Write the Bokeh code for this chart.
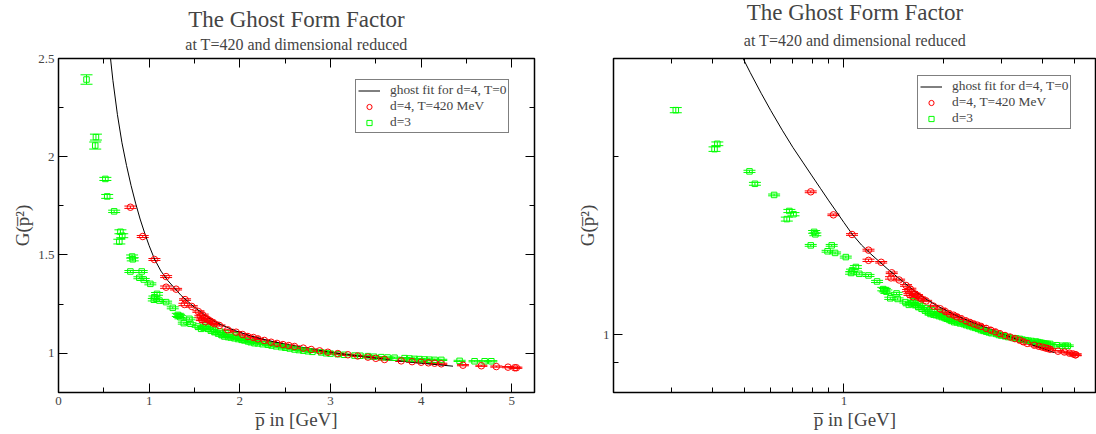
from bokeh.plotting import figure
from bokeh.layouts import row
from bokeh.models import (ColumnDataSource, Whisker, TeeHead, FixedTicker, LinearAxis, LogAxis,
                          Title, Legend, LegendItem, CustomJSTickFormatter, Range1d)
from bokeh.embed import file_html
from bokeh.resources import INLINE

SERIF = "Liberation Serif"

# ---------------- data ----------------
title_main = "The Ghost Form Factor"
title_sub = "at T=420 and dimensional reduced"
x_label = "p\u0305 in [GeV]"
y_label = "G(p\u0305\u00b2)"
legend_labels = ["ghost fit for d=4, T=0", "d=4, T=420 MeV", "d=3"]

fit_x = [0.479, 0.52, 0.561, 0.60, 0.65, 0.70, 0.75, 0.80, 0.85, 0.90, 0.95, 1.00, 1.06, 1.13,
         1.205, 1.352, 1.499, 1.647, 1.794, 1.94, 2.125, 2.309, 2.53, 2.823, 3.118, 3.413,
         3.706, 4.0, 4.351]
fit_y = [3.028, 2.767, 2.555, 2.389, 2.214, 2.071, 1.956, 1.854, 1.764, 1.683, 1.612, 1.547,
         1.478, 1.418, 1.37, 1.294, 1.234, 1.183, 1.145, 1.116, 1.087, 1.065, 1.043, 1.019,
         0.997, 0.98, 0.963, 0.949, 0.934]

red_x = [0.793, 0.929, 1.058, 1.187, 1.187, 1.297, 1.396, 1.389, 1.470, 1.543, 1.565, 1.580,
         1.590, 1.609, 1.620, 1.640, 1.665, 1.700, 1.720, 1.775, 1.867, 1.959, 2.030, 2.088,
         2.150, 2.199, 2.270, 2.345, 2.410, 2.475, 2.540, 2.603, 2.700, 2.787, 2.880, 2.971,
         3.080, 3.192, 3.300, 3.413, 3.500, 3.596, 3.780, 3.900, 4.000, 4.080, 4.148, 4.222,
         4.461, 4.664, 4.829, 4.958, 5.031, 5.050]
red_y = [1.743, 1.594, 1.477, 1.390, 1.336, 1.326, 1.273, 1.248, 1.238, 1.212, 1.188, 1.170,
         1.195, 1.180, 1.160, 1.172, 1.166, 1.155, 1.150, 1.141, 1.119, 1.107, 1.095, 1.085,
         1.080, 1.073, 1.065, 1.056, 1.050, 1.044, 1.039, 1.034, 1.026, 1.019, 1.012, 1.005,
         0.998, 0.992, 0.986, 0.980, 0.974, 0.968, 0.961, 0.957, 0.954, 0.951, 0.949, 0.946,
         0.939, 0.936, 0.932, 0.929, 0.926, 0.926]
red_err = [0.006, 0.005, 0.005, 0.005, 0.006, 0.004, 0.004, 0.006, 0.004, 0.004, 0.005, 0.004,
           0.004, 0.004, 0.004, 0.004, 0.004, 0.004, 0.004, 0.003, 0.003, 0.003, 0.003, 0.003,
           0.003, 0.003, 0.003, 0.003, 0.003, 0.003, 0.003, 0.003, 0.003, 0.003, 0.003, 0.003,
           0.003, 0.003, 0.003, 0.003, 0.003, 0.003, 0.003, 0.003, 0.003, 0.003, 0.003, 0.003,
           0.003, 0.003, 0.003, 0.003, 0.003, 0.003]

green_x = [0.309, 0.413, 0.405, 0.517, 0.537, 0.614, 0.683, 0.703, 0.671, 0.812, 0.819, 0.793,
           0.918, 0.892, 0.940, 1.013, 1.087, 1.058, 1.051, 1.113, 1.187, 1.260, 1.316, 1.345,
           1.330, 1.444, 1.382, 1.455, 1.536, 1.573, 1.600, 1.620, 1.647, 1.680, 1.700, 1.720,
           1.760, 1.780, 1.800, 1.830, 1.850, 1.870, 1.900, 1.940, 1.950, 1.980, 2.020, 2.050,
           2.090, 2.120, 2.161, 2.200, 2.250, 2.309, 2.350, 2.400, 2.456, 2.500, 2.550, 2.603,
           2.650, 2.700, 2.750, 2.800, 2.897, 2.950, 3.000, 3.080, 3.150, 3.265, 3.330, 3.413,
           3.480, 3.560, 3.630, 3.706, 3.817, 3.870, 3.927, 3.980, 4.037, 4.090, 4.148, 4.222,
           4.424, 4.589, 4.700, 4.774]
green_y = [2.393, 2.100, 2.057, 1.887, 1.798, 1.722, 1.618, 1.598, 1.568, 1.492, 1.478, 1.416,
           1.416, 1.384, 1.375, 1.353, 1.302, 1.285, 1.272, 1.268, 1.260, 1.231, 1.195, 1.183,
           1.190, 1.175, 1.153, 1.150, 1.136, 1.124, 1.130, 1.140, 1.124, 1.115, 1.125, 1.107,
           1.100, 1.110, 1.092, 1.085, 1.100, 1.082, 1.080, 1.076, 1.090, 1.072, 1.068, 1.065,
           1.060, 1.056, 1.051, 1.050, 1.046, 1.043, 1.039, 1.035, 1.031, 1.028, 1.024, 1.019,
           1.016, 1.013, 1.010, 1.007, 1.004, 1.000, 0.998, 0.995, 0.992, 0.988, 0.987, 0.985,
           0.982, 0.980, 0.978, 0.977, 0.975, 0.973, 0.971, 0.970, 0.968, 0.967, 0.966, 0.966,
           0.961, 0.959, 0.959, 0.959]
green_err = [0.024, 0.015, 0.018, 0.008, 0.010, 0.006, 0.010, 0.010, 0.012, 0.008, 0.008, 0.005,
             0.005, 0.005, 0.005, 0.005, 0.007, 0.006, 0.006, 0.005, 0.005, 0.005, 0.008, 0.008,
             0.008, 0.005, 0.005, 0.005, 0.004, 0.004, 0.004, 0.004, 0.004, 0.004, 0.004, 0.004,
             0.004, 0.004, 0.004, 0.004, 0.004, 0.003, 0.003, 0.003, 0.003, 0.003, 0.003, 0.003,
             0.003, 0.003, 0.003, 0.003, 0.003, 0.003, 0.003, 0.003, 0.003, 0.003, 0.003, 0.003,
             0.003, 0.003, 0.003, 0.003, 0.003, 0.003, 0.003, 0.003, 0.003, 0.003, 0.003, 0.003,
             0.003, 0.003, 0.003, 0.003, 0.003, 0.003, 0.003, 0.003, 0.003, 0.003, 0.003, 0.003,
             0.003, 0.003, 0.003, 0.003]

# linear panel ticks
lin_x_ticks = [0, 1, 2, 3, 4, 5]
lin_x_minor = [0.5, 1.5, 2.5, 3.5, 4.5]
lin_y_ticks = [1, 1.5, 2, 2.5]
lin_y_minor = [1.25, 1.75, 2.25]
# log panel ticks
log_x_ticks = [1]
log_x_minor = [0.3, 0.4, 0.5, 0.6, 0.7, 0.8, 0.9, 2, 3, 4, 5]
log_y_ticks = [1]
log_y_minor = [0.9, 2]

RED = "#ff0000"
GREEN = "#00ff00"

fmt_code = "return String(Math.round(tick*100)/100);"


def style_axis(ax, show_labels=True):
    ax.major_tick_in = 9
    ax.major_tick_out = 0
    ax.minor_tick_in = 5
    ax.minor_tick_out = 0
    ax.major_tick_line_color = "black"
    ax.minor_tick_line_color = "black"
    ax.axis_line_color = None
    ax.axis_label_text_font = SERIF
    ax.axis_label_text_font_size = "19px"
    ax.axis_label_text_font_style = "normal"
    ax.axis_label_standoff = 1
    ax.major_label_text_font = SERIF
    ax.major_label_text_font_size = "13px"
    ax.major_label_standoff = 4
    if show_labels:
        ax.formatter = CustomJSTickFormatter(code=fmt_code)
    else:
        ax.formatter = CustomJSTickFormatter(code="return '';")
        ax.major_label_text_font_size = "1px"
        ax.major_label_text_color = None
        ax.major_label_standoff = 0


def build(log, xr, yr, xt, xm, yt, ym, mb_left, mb_right, fw, leg_loc, right_axis,
          sub_standoff, title_standoff):
    p = figure(title=None, toolbar_location=None, output_backend="svg",
               x_axis_type="log" if log else "linear", y_axis_type="log" if log else "linear",
               x_range=Range1d(*xr), y_range=Range1d(*yr),
               frame_width=fw, frame_height=334,
               min_border_left=mb_left, min_border_right=mb_right,
               min_border_top=58, min_border_bottom=42)
    p.grid.visible = False
    p.outline_line_color = "black"
    p.outline_line_width = 1.5
    p.background_fill_color = "white"
    p.border_fill_color = "white"

    p.xaxis[0].ticker = FixedTicker(ticks=xt, minor_ticks=xm)
    p.yaxis[0].ticker = FixedTicker(ticks=yt, minor_ticks=ym)
    p.xaxis[0].axis_label = x_label
    p.yaxis[0].axis_label = y_label
    style_axis(p.xaxis[0])
    style_axis(p.yaxis[0])
    p.yaxis[0].axis_label_standoff = 2

    AxisCls = LogAxis if log else LinearAxis
    top = AxisCls(ticker=FixedTicker(ticks=xt, minor_ticks=xm))
    style_axis(top, show_labels=False)
    p.add_layout(top, "above")
    if right_axis:
        rt = AxisCls(ticker=FixedTicker(ticks=yt, minor_ticks=ym))
        style_axis(rt, show_labels=False)
        p.add_layout(rt, "right")

    p.add_layout(Title(text=title_sub, align="center", text_font=SERIF, text_font_size="16px",
                       text_font_style="normal", text_line_height=1.0,
                       standoff=sub_standoff), "above")
    p.add_layout(Title(text=title_main, align="center", text_font=SERIF, text_font_size="23px",
                       text_font_style="normal", text_line_height=1.0,
                       standoff=title_standoff), "above")

    fit_r = p.line(fit_x, fit_y, line_color="black", line_width=1)

    for xs, ys, es, col in [(green_x, green_y, green_err, GREEN), (red_x, red_y, red_err, RED)]:
        src = ColumnDataSource(dict(x=xs, y=ys,
                                    upper=[a + b for a, b in zip(ys, es)],
                                    lower=[a - b for a, b in zip(ys, es)]))
        p.add_layout(Whisker(source=src, base="x", upper="upper", lower="lower",
                             dimension="height", line_color=col, line_width=1,
                             upper_head=TeeHead(size=12, line_color=col, line_width=1),
                             lower_head=TeeHead(size=12, line_color=col, line_width=1)))

    g_src = ColumnDataSource(dict(x=green_x, y=green_y))
    r_src = ColumnDataSource(dict(x=red_x, y=red_y))
    g_r = p.scatter("x", "y", source=g_src, marker="square", size=5.5, fill_color=None,
                    line_color=GREEN, line_width=1)
    r_r = p.scatter("x", "y", source=r_src, marker="circle", size=6.5, fill_color=None,
                    line_color=RED, line_width=1)

    legend = Legend(items=[LegendItem(label=legend_labels[0], renderers=[fit_r]),
                           LegendItem(label=legend_labels[1], renderers=[r_r]),
                           LegendItem(label=legend_labels[2], renderers=[g_r])],
                    location=leg_loc, margin=0, padding=2, spacing=0,
                    label_height=13, glyph_height=13, glyph_width=22, label_standoff=10,
                    label_text_font=SERIF, label_text_font_size="13.4px",
                    label_text_line_height=1.0,
                    border_line_color="black", border_line_width=1.5,
                    background_fill_color="white", background_fill_alpha=1.0)
    p.add_layout(legend)
    return p


p1 = build(False, (0, 5.25), (0.8, 2.5), lin_x_ticks, lin_x_minor, lin_y_ticks, lin_y_minor,
           58, 22, 476, (297, 259), True, 11, -7)
p2 = build(True, (0.2, 5.834), (0.8, 2.924), log_x_ticks, log_x_minor, log_y_ticks, log_y_minor,
           57, 0, 483, (304, 263), False, 20, -10)

layout = row(p1, p2)
open("out.html", "w").write(file_html(layout, INLINE))
